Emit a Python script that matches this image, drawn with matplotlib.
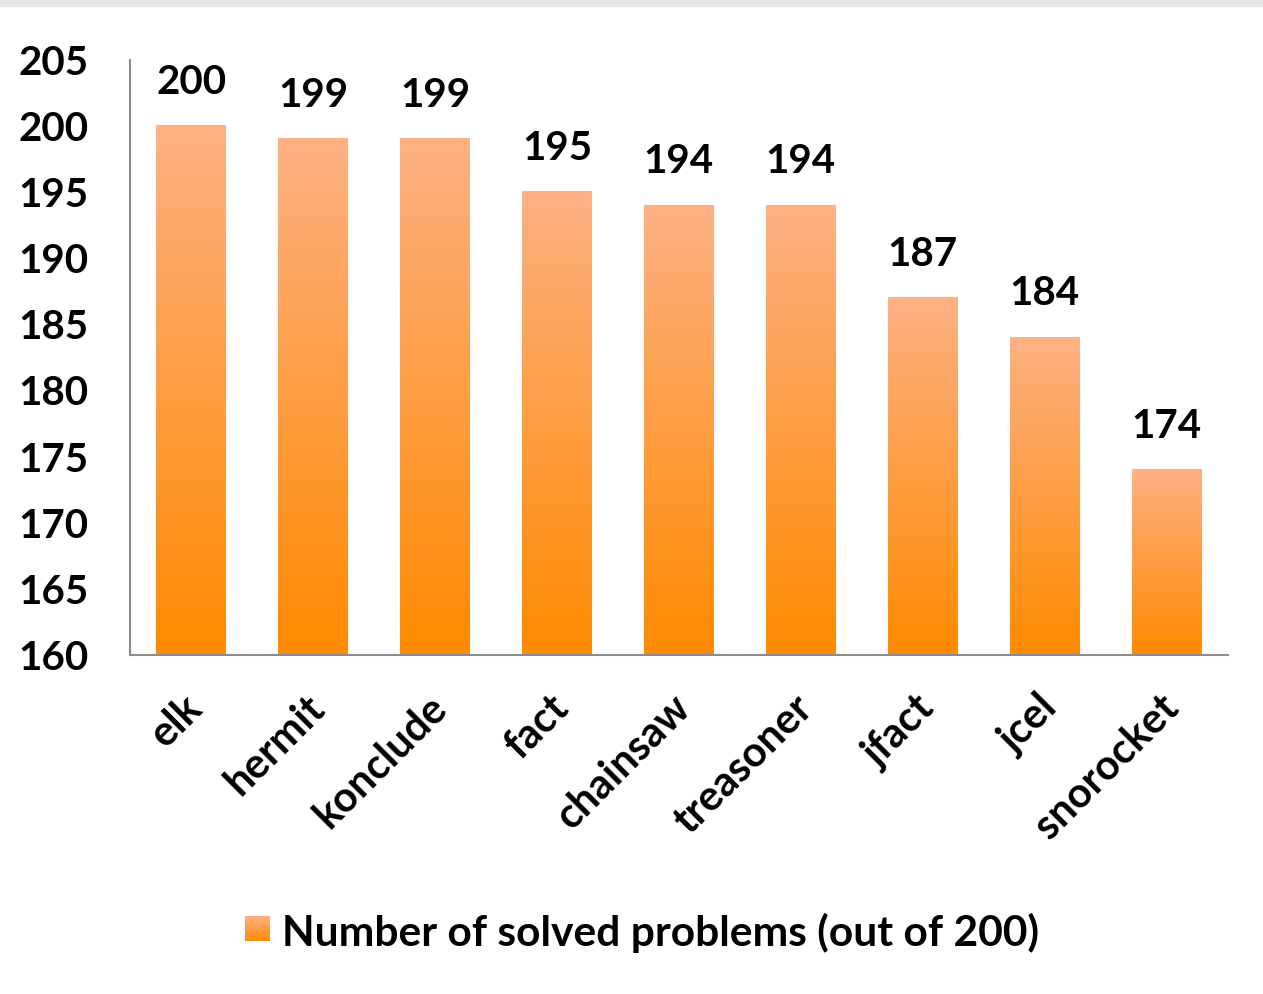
import numpy as np
import matplotlib.pyplot as plt
import matplotlib.transforms as mtransforms
from matplotlib.colors import LinearSegmentedColormap
from matplotlib.patches import Rectangle

reasoners = ["elk", "hermit", "konclude", "fact", "chainsaw", "treasoner", "jfact", "jcel", "snorocket"]
solved = [200, 199, 199, 195, 194, 194, 187, 184, 174]
yticks = [160, 165, 170, 175, 180, 185, 190, 195, 200, 205]
legend_label = "Number of solved problems (out of 200)"

plt.rcParams['font.family'] = ['Lato', 'DejaVu Sans']
plt.rcParams['font.weight'] = 'bold'

fig = plt.figure(figsize=(12.63, 9.94), dpi=100)
ax = fig.add_axes([0.103, 0.341, 0.869, 0.599])

# light gray strip along the very top
fig.patches.append(Rectangle((0, 0.994), 1, 0.006, transform=fig.transFigure,
                             color='#e6e7eb', zorder=0))

grad = LinearSegmentedColormap.from_list("og", ["#ff8a00", "#fdb184"])
g = np.linspace(0, 1, 256).reshape(-1, 1)
width = 0.57
ymin = 160
x = np.arange(len(reasoners))
for i, v in enumerate(solved):
    ax.imshow(g, cmap=grad, origin='lower', aspect='auto',
              extent=(i - width / 2, i + width / 2, ymin, v), zorder=2)
    ax.text(i, v + 1.9, str(v), ha='center', va='bottom', fontsize=29,
            fontweight='bold')

ax.set_xlim(-0.5, len(reasoners) - 0.5)
ax.set_ylim(ymin, 205)
ax.set_yticks(yticks)
ax.set_yticklabels([str(t) for t in yticks], fontsize=29, fontweight='bold')
ax.set_xticks(x)
ax.set_xticklabels(reasoners, fontsize=30, fontweight='bold', rotation=45,
                   ha='right', rotation_mode='anchor')
ax.tick_params(axis='both', length=0)
ax.tick_params(axis='y', pad=30)
ax.tick_params(axis='x', pad=24)
# nudge rotated labels a little to the left
shift = mtransforms.ScaledTranslation(-8 / 100, 0, fig.dpi_scale_trans)
for lab in ax.get_xticklabels():
    lab.set_transform(lab.get_transform() + shift)
for sp in ['top', 'right']:
    ax.spines[sp].set_visible(False)
for sp in ['left', 'bottom']:
    ax.spines[sp].set_color('#8c8c8c')
    ax.spines[sp].set_linewidth(1.5)

# legend drawn by hand so the key square keeps the gradient
lax = fig.add_axes([245 / 1263, 1 - 941 / 994, 25 / 1263, 25 / 994])
lax.imshow(g, cmap=grad, origin='lower', aspect='auto')
lax.axis('off')
fig.text(282 / 1263, 1 - 933 / 994, legend_label, ha='left', va='center',
         fontsize=30.6, fontweight='bold')

fig.savefig('out.png', dpi=100)
